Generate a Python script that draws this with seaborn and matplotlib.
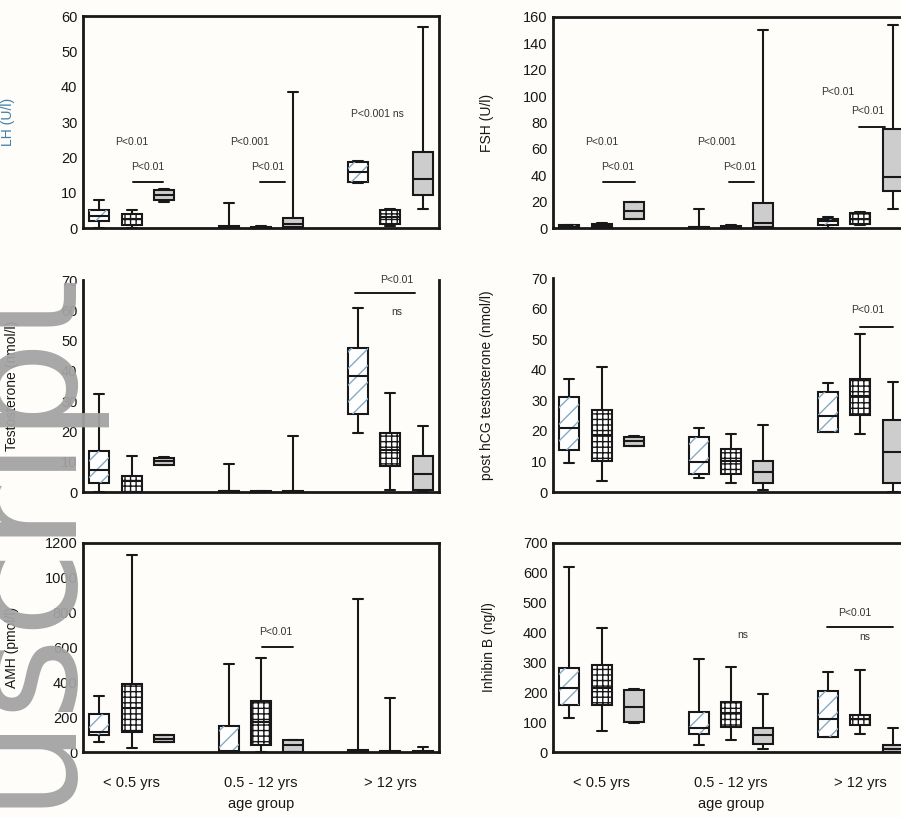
import numpy as np
import pandas as pd
import matplotlib.pyplot as plt
import seaborn as sns
from matplotlib.patches import PathPatch

# three boxes per age group, empty slots at 4 and 8
positions = [1, 2, 3, 5, 6, 7, 9, 10, 11]
kinds = ["hatch", "grid", "gray"] * 3
age_groups = ["< 0.5 yrs", "0.5 - 12 yrs", "> 12 yrs"]
age_ticks = [2, 6, 10]

# each box: [min, q1, median, q3, max]
lh = [[0, 2, 3.5, 5, 8], [0, 0.8, 2.6, 4.1, 5.2], [7.5, 7.8, 9.3, 10.7, 11],
      [0, 0, 0.2, 0.5, 7], [0, 0, 0.1, 0.3, 0.5], [0, 0.2, 1, 2.8, 38.5],
      [12.8, 13, 15.9, 18.7, 19], [0.5, 1.2, 3.1, 5, 5.5], [5.5, 9.3, 14, 21.5, 57]]
fsh = [[0, 0.5, 1, 2, 2.5], [0, 0.5, 1.5, 3, 4], [7, 7.1, 13, 19.7, 20],
       [0, 0, 0.5, 1, 14.5], [0, 0.3, 0.8, 1.5, 2], [0, 0.5, 4, 19, 150],
       [0, 2, 5, 7, 8], [2, 3.3, 7, 11, 12], [14.7, 28, 38.7, 75.3, 153.7]]
testo = [[0, 3, 7.4, 13.6, 32.3], [0, 0, 3.5, 5.2, 12], [8.8, 8.9, 10.2, 11.3, 11.4],
         [0, 0, 0.2, 0.4, 9.4], [0, 0, 0.1, 0.2, 0.3], [0, 0, 0.1, 0.3, 18.5],
         [19.6, 25.7, 38.4, 47.6, 60.6], [0.5, 8.5, 14, 19.6, 32.6], [0, 0.5, 5.8, 11.8, 21.8]]
hcg = [[9.4, 13.6, 21, 31, 37.1], [3.6, 10.2, 18.6, 26.9, 40.8], [15, 15.2, 16.7, 18, 18.2],
       [4.7, 5.8, 9.7, 18, 20.8], [3, 5.8, 10.2, 14.1, 19.1], [0.8, 3, 6.7, 10.2, 21.9],
       [19.7, 19.7, 24.7, 32.7, 35.8], [19.1, 25.2, 31.3, 37.1, 51.6], [0, 3, 13, 23.6, 36]]
amh = [[60, 100, 115, 220, 320], [23, 114, 250, 389, 1132], [55, 58, 77, 97, 100],
       [0, 0, 4, 151, 503], [0, 43, 174, 290, 542], [0, 0, 39, 68, 70],
       [0, 2, 5, 14, 880], [0, 0, 2, 5, 310], [0, 0, 2, 5, 30]]
inhb = [[115, 158, 214, 281, 619], [70, 158, 214, 293, 414], [98, 101, 152, 208, 210],
        [25, 60, 79, 133, 313], [39, 84, 129, 169, 285], [11, 28, 56, 79, 194],
        [51, 51, 110, 203, 268], [60, 90, 110, 124, 276], [0, 0, 11, 25, 79]]

# significance notes: (x, y, text) and bars (x0, x1, y)
lh_txt = [(2.0, 22.9, "P<0.01"), (2.5, 15.8, "P<0.01"), (5.66, 22.9, "P<0.001"),
          (6.22, 15.8, "P<0.01"), (9.6, 30.8, "P<0.001 ns")]
lh_bar = [(2.05, 2.97, 13), (5.97, 6.74, 13)]
fsh_txt = [(2.0, 61.4, "P<0.01"), (2.5, 42.5, "P<0.01"), (5.57, 61.4, "P<0.001"),
           (6.28, 42.5, "P<0.01"), (9.31, 99.3, "P<0.01"), (10.23, 84.9, "P<0.01")]
fsh_bar = [(2.05, 3.03, 34.9), (5.94, 6.71, 34.9), (9.96, 10.76, 76.6)]
testo_txt = [(10.2, 68.3, "P<0.01"), (10.2, 57.8, "ns")]
testo_bar = [(8.9, 10.76, 65.7)]
hcg_txt = [(10.23, 57.9, "P<0.01")]
hcg_bar = [(9.99, 11.0, 54)]
amh_txt = [(6.46, 660, "P<0.01")]
amh_bar = [(6.03, 6.99, 603)]
inhb_txt = [(6.37, 375, "ns"), (9.83, 449, "P<0.01"), (10.14, 368, "ns")]
inhb_bar = [(8.97, 11.0, 419)]

sns.set_style("white")
plt.rcParams["font.family"] = ["Liberation Sans", "DejaVu Sans"]
ink = "#181818"

fig = plt.figure(figsize=(9.01, 8.18), dpi=100, facecolor="#fffdfa")

W, H = 901, 818
def make_ax(left_px, top_px, bottom_px):
    return fig.add_axes([left_px / W, 1 - bottom_px / H, 356 / W, (bottom_px - top_px) / H])


def draw_panel(ax, boxes, ymax, ystep, ylabel, texts, bars, label_x, bottom_row, top_spine,
               label_color=ink):
    df = pd.DataFrame([(p, v) for p, b in zip(positions, boxes) for v in b],
                      columns=["pos", "value"])
    sns.boxplot(data=df, x="pos", y="value", native_scale=True, whis=(0, 100),
                width=0.62, color="white", saturation=1, linecolor=ink, linewidth=1.5,
                showfliers=False, ax=ax)
    for patch in list(ax.patches):
        v = patch.get_path().vertices
        cx = (v[:, 0].min() + v[:, 0].max()) / 2
        kind = kinds[int(np.argmin(np.abs(np.array(positions) - cx)))]
        if kind == "grid":
            patch.set_hatch("+++")
            patch.set_edgecolor(ink)
        elif kind == "gray":
            patch.set_facecolor("#cdcdcd")
        else:
            over = PathPatch(patch.get_path(), facecolor="none", edgecolor="#86a9c4",
                             hatch="//", lw=0, zorder=patch.get_zorder() + 0.05)
            ax.add_patch(over)

    for x, y, t in texts:
        ax.text(x, y, t, ha="center", va="bottom", fontsize=7.5, color="#333333")
    for x0, x1, y in bars:
        ax.plot([x0, x1], [y, y], color=ink, lw=1.4)

    ax.set_xlim(0.5, 11.5)
    ax.set_ylim(0, ymax)
    ax.set_yticks(np.arange(0, ymax + 1, ystep))
    ax.set_xticks(range(1, 12))
    if bottom_row:
        ax.set_xticklabels(["" if i not in age_ticks else age_groups[age_ticks.index(i)]
                            for i in range(1, 12)])
        ax.set_xlabel("age group", fontsize=10.5, color=ink, labelpad=5)
    else:
        ax.set_xticklabels([])
        ax.set_xlabel("")
    ax.set_ylabel(ylabel, fontsize=10, color=label_color)
    ax.yaxis.set_label_coords(label_x, 0.5)
    ax.tick_params(direction="in", length=4, width=1.2, labelsize=10.5, colors=ink,
                   pad=4)
    ax.tick_params(axis="x", labelsize=10.5, pad=17)
    for s in ax.spines.values():
        s.set_linewidth(2)
        s.set_color(ink)
        s.set_visible(True)
    ax.spines["top"].set_visible(top_spine)
    ax.set_facecolor("none")


ax1 = make_ax(83, 16, 228)
ax2 = make_ax(553, 17, 228)
ax3 = make_ax(83, 280, 492)
ax4 = make_ax(553, 278, 492)
ax5 = make_ax(83, 543, 752)
ax6 = make_ax(553, 543, 752)

draw_panel(ax1, lh, 60, 10, "LH (U/l)", lh_txt, lh_bar, -0.19, False, True, "#3d7fa8")
draw_panel(ax2, fsh, 160, 20, "FSH (U/l)", fsh_txt, fsh_bar, -0.165, False, True)
draw_panel(ax3, testo, 70, 10, "Testosterone (nmol/l)", testo_txt, testo_bar, -0.18,
           False, False)
draw_panel(ax4, hcg, 70, 10, "post hCG testosterone (nmol/l)", hcg_txt, hcg_bar, -0.165,
           False, False)
draw_panel(ax5, amh, 1200, 200, "AMH (pmol/l)", amh_txt, amh_bar, -0.18, True, True)
draw_panel(ax6, inhb, 700, 100, "Inhibin B (ng/l)", inhb_txt, inhb_bar, -0.16, True, True)

# scanned-manuscript watermark along the left edge
fig.text(62 / W, 1 - 262 / H, "Manuscript", rotation=90, rotation_mode="anchor",
         ha="right", va="baseline", fontsize=114, color="#a3a3a3", alpha=0.95,
         family="DejaVu Sans", zorder=20)

fig.savefig("out.png", dpi=100, facecolor=fig.get_facecolor())
